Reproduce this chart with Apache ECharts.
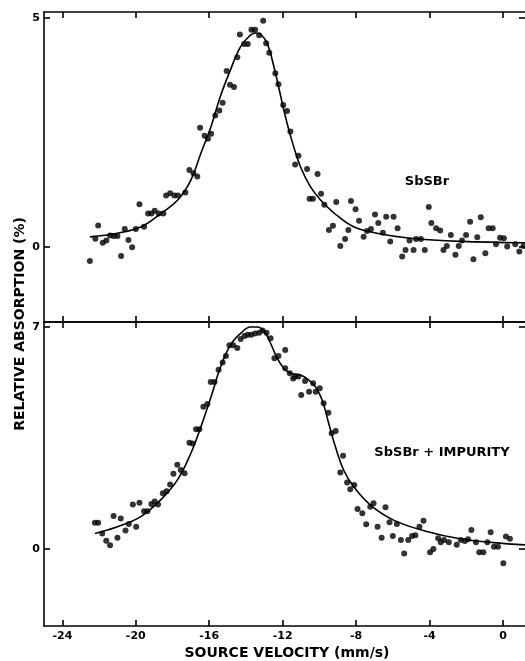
<!DOCTYPE html>
<html>
<head>
<meta charset="utf-8">
<script src="https://cdn.jsdelivr.net/npm/echarts@6/dist/echarts.min.js"></script>
<style>
  html, body { margin: 0; padding: 0; background: #fff; }
  #chart { width: 525px; height: 661px; }
</style>
</head>
<body>
<div id="chart"></div>
<script>
// tick values
const xTicks = [-24, -20, -16, -12, -8, -4, 0]
const topYTicks = [0, 5]
const bottomYTicks = [0, 7]

// SbSBr (top panel) measured points, [velocity, absorption]
const sbsbrPoints = [
  [-22.5, -0.31], [-22.2, 0.18], [-22.05, 0.47], [-21.8, 0.09], [-21.6, 0.14],
  [-21.4, 0.25], [-21.2, 0.24], [-21.0, 0.24], [-20.8, -0.2], [-20.6, 0.39],
  [-20.4, 0.15], [-20.2, -0.01], [-20.0, 0.39], [-19.8, 0.93], [-19.55, 0.44],
  [-19.33, 0.73], [-19.15, 0.73], [-18.97, 0.79], [-18.75, 0.73], [-18.5, 0.73],
  [-18.35, 1.12], [-18.13, 1.17], [-17.9, 1.12], [-17.7, 1.12], [-17.3, 1.19],
  [-17.08, 1.68], [-16.86, 1.61], [-16.65, 1.54], [-16.5, 2.6], [-16.25, 2.43],
  [-16.07, 2.36], [-15.9, 2.47], [-15.67, 2.87], [-15.45, 2.98], [-15.27, 3.15],
  [-15.05, 3.84], [-14.87, 3.54], [-14.65, 3.49], [-14.47, 4.14], [-14.33, 4.64],
  [-14.1, 4.43], [-13.9, 4.43], [-13.7, 4.74], [-13.5, 4.74], [-13.28, 4.62],
  [-13.06, 4.94], [-12.9, 4.45], [-12.73, 4.24], [-12.4, 3.79], [-12.23, 3.55],
  [-11.97, 3.1], [-11.76, 2.97], [-11.58, 2.52], [-11.32, 1.8], [-11.14, 1.99],
  [-10.67, 1.7], [-10.53, 1.05], [-10.35, 1.05], [-10.1, 1.59], [-9.91, 1.16],
  [-9.73, 0.92], [-9.48, 0.37], [-9.26, 0.46], [-9.08, 0.98], [-8.86, 0.02],
  [-8.6, 0.17], [-8.42, 0.37], [-8.28, 1.0], [-8.03, 0.82], [-7.84, 0.57],
  [-7.59, 0.22], [-7.41, 0.35], [-7.19, 0.39], [-6.97, 0.71], [-6.79, 0.52],
  [-6.54, 0.31], [-6.36, 0.66], [-6.14, 0.12], [-5.96, 0.66], [-5.74, 0.41],
  [-5.49, -0.21], [-5.31, -0.07], [-5.09, 0.14], [-4.87, -0.07], [-4.73, 0.17],
  [-4.47, 0.17], [-4.26, -0.07], [-4.04, 0.87], [-3.9, 0.52], [-3.64, 0.41],
  [-3.42, 0.36], [-3.24, -0.07], [-3.06, 0.02], [-2.84, 0.26], [-2.59, -0.17],
  [-2.41, 0.02], [-2.23, 0.14], [-2.01, 0.26], [-1.79, 0.55], [-1.61, -0.27],
  [-1.4, 0.21], [-1.21, 0.65], [-0.96, -0.14], [-0.78, 0.41], [-0.56, 0.41],
  [-0.38, 0.06], [-0.16, 0.2], [0.05, 0.19], [0.23, 0.01], [0.67, 0.06],
  [0.89, -0.1], [1.12, 0.02]
]

// SbSBr fitted curve
const sbsbrFit = [
  [-22.5, 0.22], [-21.0, 0.3], [-19.7, 0.44], [-18.6, 0.74], [-17.7, 1.03],
  [-17.0, 1.46], [-16.45, 2.05], [-15.9, 2.63], [-15.4, 3.28], [-14.85, 3.86],
  [-14.3, 4.37], [-13.85, 4.59], [-13.5, 4.67], [-13.2, 4.64], [-12.85, 4.45],
  [-12.48, 3.94], [-12.1, 3.28], [-11.76, 2.7], [-11.4, 2.19], [-11.03, 1.75],
  [-10.5, 1.32], [-9.95, 1.03], [-9.2, 0.74], [-8.14, 0.44], [-6.87, 0.3],
  [-5.05, 0.19], [-2.34, 0.12], [1.2, 0.09]
]

// SbSBr + impurity (bottom panel) measured points
const impurityPoints = [
  [-22.23, 0.83], [-22.05, 0.83], [-21.83, 0.49], [-21.61, 0.26], [-21.4, 0.12],
  [-21.21, 1.04], [-21.0, 0.35], [-20.82, 0.96], [-20.56, 0.58], [-20.38, 0.79],
  [-20.16, 1.4], [-19.98, 0.7], [-19.8, 1.46], [-19.55, 1.19], [-19.37, 1.19],
  [-19.15, 1.42], [-18.97, 1.5], [-18.79, 1.4], [-18.53, 1.76], [-18.32, 1.82],
  [-18.13, 2.03], [-17.95, 2.37], [-17.74, 2.66], [-17.55, 2.49], [-17.34, 2.39],
  [-17.08, 3.35], [-16.9, 3.33], [-16.72, 3.78], [-16.54, 3.78], [-16.32, 4.49],
  [-16.1, 4.57], [-15.92, 5.27], [-15.71, 5.27], [-15.49, 5.65], [-15.27, 5.88],
  [-15.09, 6.09], [-14.9, 6.43], [-14.69, 6.43], [-14.47, 6.34], [-14.29, 6.62],
  [-14.08, 6.72], [-13.9, 6.76], [-13.71, 6.76], [-13.5, 6.8], [-13.28, 6.82],
  [-13.1, 6.89], [-12.88, 6.82], [-12.66, 6.65], [-12.45, 6.02], [-12.23, 6.09],
  [-11.86, 6.28], [-11.86, 5.7], [-11.61, 5.54], [-11.43, 5.38], [-11.32, 5.44],
  [-11.14, 5.44], [-10.99, 4.86], [-10.78, 5.3], [-10.56, 4.96], [-10.34, 5.23],
  [-10.2, 4.96], [-9.98, 5.07], [-9.77, 4.6], [-9.51, 4.3], [-9.33, 3.65],
  [-9.11, 3.72], [-8.71, 2.94], [-8.86, 2.41], [-8.49, 2.1], [-8.32, 1.88],
  [-8.1, 2.02], [-7.92, 1.26], [-7.66, 1.13], [-7.45, 0.78], [-7.23, 1.33],
  [-7.05, 1.44], [-6.83, 0.7], [-6.61, 0.35], [-6.4, 1.32], [-6.18, 0.84],
  [-6.0, 0.41], [-5.78, 0.79], [-5.56, 0.28], [-5.38, -0.14], [-5.16, 0.28],
  [-4.95, 0.41], [-4.77, 0.43], [-4.55, 0.7], [-4.33, 0.89], [-3.97, -0.1],
  [-3.79, 0.0], [-3.53, 0.34], [-3.39, 0.21], [-3.21, 0.28], [-2.95, 0.21],
  [-2.52, 0.13], [-2.3, 0.28], [-2.08, 0.25], [-1.9, 0.31], [-1.72, 0.6],
  [-1.47, 0.21], [-1.29, -0.1], [-1.07, -0.1], [-0.85, 0.21], [-0.67, 0.53],
  [-0.49, 0.07], [-0.27, 0.07], [0.02, -0.45], [0.16, 0.39], [0.38, 0.32]
]

// SbSBr + impurity fitted curve
const impurityFit = [
  [-22.23, 0.49], [-21.0, 0.7], [-19.73, 1.02], [-18.64, 1.55], [-17.73, 2.18],
  [-17.0, 3.02], [-16.45, 3.86], [-15.9, 4.8], [-15.38, 5.75], [-14.84, 6.44],
  [-14.29, 6.8], [-13.75, 7.0], [-13.38, 7.0], [-13.0, 6.86], [-12.66, 6.49],
  [-12.3, 6.02], [-11.94, 5.7], [-11.58, 5.54], [-11.03, 5.49], [-10.58, 5.33],
  [-10.22, 5.12], [-9.85, 4.7], [-9.49, 3.96], [-9.13, 3.23], [-8.68, 2.49],
  [-8.14, 1.97], [-7.23, 1.39], [-5.96, 0.91], [-4.15, 0.55], [-2.34, 0.32],
  [-0.52, 0.2], [1.2, 0.13]
]

const FONT = 'DejaVu Sans'

function xAxisFor(gridIndex, position, showLabels) {
  return {
    type: 'value',
    gridIndex: gridIndex,
    position: position,
    min: -25,
    max: 1.2,
    axisLine: { show: true, onZero: false, lineStyle: { color: '#000', width: 1.6 } },
    // 刻度朝内
    axisTick: { show: true, inside: true, length: 6, customValues: xTicks, lineStyle: { color: '#000', width: 1.6 } },
    axisLabel: {
      show: showLabels,
      customValues: xTicks,
      margin: 5,
      color: '#000',
      fontFamily: FONT,
      fontWeight: 'bold',
      fontSize: 11,
    },
    splitLine: { show: false },
  }
}

function yAxisFor(gridIndex, position, lo, hi, ticks, showLine) {
  return {
    type: 'value',
    gridIndex: gridIndex,
    position: position,
    min: lo,
    max: hi,
    axisLine: { show: showLine, onZero: false, lineStyle: { color: '#000', width: 1.6 } },
    axisTick: { show: true, inside: true, length: 6, customValues: ticks, lineStyle: { color: '#000', width: 1.6 } },
    axisLabel: {
      show: showLine,
      customValues: ticks,
      margin: 4,
      color: '#000',
      fontFamily: FONT,
      fontWeight: 'bold',
      fontSize: 11,
    },
    splitLine: { show: false },
  }
}

const chart = echarts.init(document.getElementById('chart'))

const titleFont = 'bold 14px "DejaVu Sans"'
const noteFont = 'bold 13px "DejaVu Sans"'

const option = {
  backgroundColor: '#fff',
  animation: false,
  grid: [
    { left: 44, top: 12, width: 481, height: 310 },
    { left: 44, top: 322, width: 481, height: 304 },
  ],
  xAxis: [
    xAxisFor(0, 'bottom', false),
    xAxisFor(0, 'top', false),
    xAxisFor(1, 'bottom', true),
    xAxisFor(1, 'top', false),
  ],
  yAxis: [
    yAxisFor(0, 'left', -1.64, 5.13, topYTicks, true),
    yAxisFor(0, 'right', -1.64, 5.13, topYTicks, false),
    yAxisFor(1, 'left', -2.43, 7.16, bottomYTicks, true),
    yAxisFor(1, 'right', -2.43, 7.16, bottomYTicks, false),
  ],
  graphic: [
    {
      type: 'text',
      x: 20,
      y: 324,
      rotation: Math.PI / 2,
      style: {
        text: 'RELATIVE ABSORPTION (%)',
        fill: '#000',
        font: titleFont,
        textAlign: 'center',
        textVerticalAlign: 'middle',
      },
    },
    {
      type: 'text',
      x: 287,
      y: 653,
      style: {
        text: 'SOURCE VELOCITY (mm/s)',
        fill: '#000',
        font: titleFont,
        textAlign: 'center',
        textVerticalAlign: 'middle',
      },
    },
    {
      type: 'text',
      x: 427,
      y: 182,
      style: {
        text: 'SbSBr',
        fill: '#000',
        font: noteFont,
        textAlign: 'center',
        textVerticalAlign: 'middle',
      },
    },
    {
      type: 'text',
      x: 442,
      y: 453,
      style: {
        text: 'SbSBr + IMPURITY',
        fill: '#000',
        font: noteFont,
        textAlign: 'center',
        textVerticalAlign: 'middle',
      },
    },
  ],
  series: [
    {
      type: 'scatter',
      xAxisIndex: 0,
      yAxisIndex: 0,
      symbol: 'circle',
      symbolSize: 6,
      itemStyle: { color: '#000' },
      data: sbsbrPoints,
    },
    {
      type: 'line',
      xAxisIndex: 0,
      yAxisIndex: 0,
      showSymbol: false,
      smooth: 0.4,
      lineStyle: { color: '#000', width: 1.6 },
      data: sbsbrFit,
    },
    {
      type: 'scatter',
      xAxisIndex: 2,
      yAxisIndex: 2,
      symbol: 'circle',
      symbolSize: 6,
      itemStyle: { color: '#000' },
      data: impurityPoints,
    },
    {
      type: 'line',
      xAxisIndex: 2,
      yAxisIndex: 2,
      showSymbol: false,
      smooth: 0.4,
      lineStyle: { color: '#000', width: 1.6 },
      data: impurityFit,
    },
  ],
}

chart.setOption(option)
</script>
</body>
</html>
